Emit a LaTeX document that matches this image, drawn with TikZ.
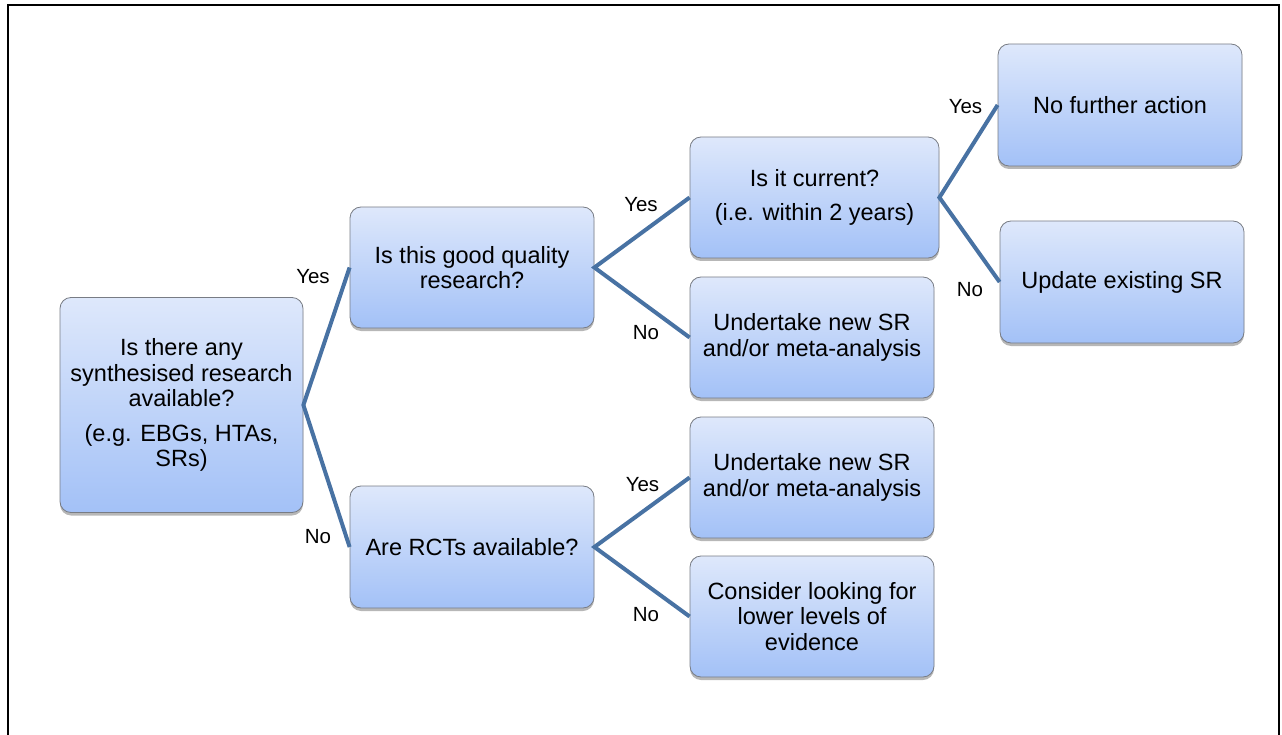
\documentclass[tikz,border=0pt]{standalone}
\usepackage{fontspec}
\setmainfont{Liberation Sans}
\usetikzlibrary{shadows}
\definecolor{linkblue}{RGB}{72,114,163}
\definecolor{boxtop}{RGB}{222,232,251}
\definecolor{boxbot}{RGB}{163,193,247}
\definecolor{boxedge}{RGB}{120,124,132}
\tikzset{
  qbox/.style={draw=boxedge, line width=0.8pt, rounded corners=11pt,
    top color=boxtop, bottom color=boxbot, inner sep=0pt, align=center,
    font=\fontsize{23.5}{25.5}\selectfont,
    drop shadow={shadow xshift=0pt, shadow yshift=-3pt, opacity=0.4, fill=black!70}},
  link/.style={draw=linkblue, line width=4pt},
  lab/.style={font=\fontsize{20.5}{23}\selectfont, inner sep=0pt}
}
\begin{document}
\begin{tikzpicture}[x=1pt,y=-1pt]
\useasboundingbox (0,0) rectangle (1282,735);
\draw[line width=2pt] (7.5,735) -- (7.5,5) -- (1279,5) -- (1279,735);

\node[qbox, minimum width=243pt, minimum height=215pt] (A) at (181.5,405)
  {Is there any\\synthesised research\\available?\\[9pt](e.g. EBGs, HTAs,\\SRs)};
\node[qbox, minimum width=244pt, minimum height=121pt] (B) at (472,267.5)
  {Is this good quality\\research?};
\node[qbox, minimum width=244pt, minimum height=122pt] (C) at (472,547)
  {Are RCTs available?};
\node[qbox, minimum width=249pt, minimum height=121pt] (D) at (814.5,197.5)
  {Is it current?\\[9pt](i.e. within 2 years)};
\node[qbox, minimum width=244pt, minimum height=121pt] (E) at (812,337.5)
  {Undertake new SR\\and/or meta-analysis};
\node[qbox, minimum width=244pt, minimum height=121pt] (F) at (812,477.5)
  {Undertake new SR\\and/or meta-analysis};
\node[qbox, minimum width=244pt, minimum height=121pt] (G) at (812,616.5)
  {Consider looking for\\lower levels of\\evidence};
\node[qbox, minimum width=244pt, minimum height=122pt] (H) at (1120,105)
  {No further action};
\node[qbox, minimum width=244pt, minimum height=122pt] (I) at (1122,282)
  {Update existing SR};

\draw[link] (B.west) -- (A.east) -- (C.west);
\draw[link] (D.west) -- (B.east) -- (E.west);
\draw[link] (F.west) -- (C.east) -- (G.west);
\draw[link] (H.west) -- (D.east) -- (I.west);

\node[lab] (l1) at (313,277) {Yes};
\node[lab] (l2) at (318,537) {No};
\node[lab] (l3) at (641,205) {Yes};
\node[lab] (l4) at (646,333) {No};
\node[lab] (l5) at (642.5,485) {Yes};
\node[lab] (l6) at (646,615) {No};
\node[lab] (l7) at (965.5,107) {Yes};
\node[lab] (l8) at (970,290) {No};
\end{tikzpicture}
\end{document}
